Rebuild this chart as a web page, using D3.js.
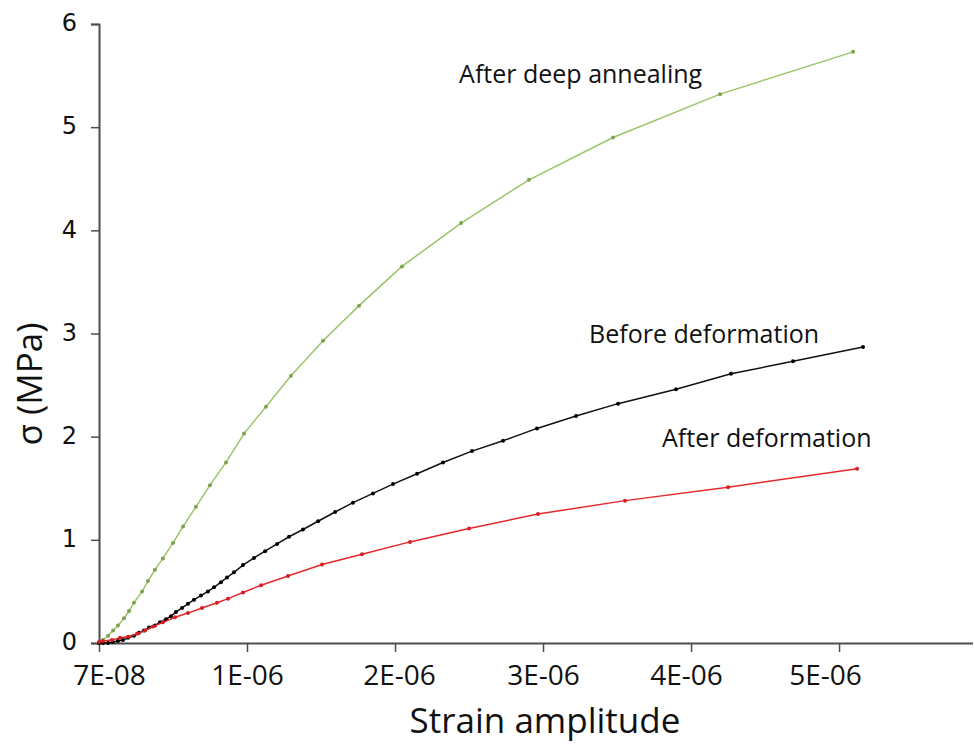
<!DOCTYPE html>
<html>
<head>
<meta charset="utf-8">
<script src="https://cdn.jsdelivr.net/npm/d3@7"></script>
<style>
  html, body { margin: 0; padding: 0; background: #fff; }
  svg { display: block; }
</style>
</head>
<body>
<svg id="chart" width="974" height="745"></svg>
<script>
// ---------- DATA ----------
const xTickValues = [0, 1e-6, 2e-6, 3e-6, 4e-6, 5e-6];
const xTickLabels = ["7E-08", "1E-06", "2E-06", "3E-06", "4E-06", "5E-06"];
const yTickValues = [0, 1, 2, 3, 4, 5, 6];

const seriesNames = ["After deep annealing", "Before deformation", "After deformation"];

// strain amplitude (x) and stress in MPa (y)
const annealX = [0.007e-6, 0.027e-6, 0.061e-6, 0.095e-6, 0.128e-6, 0.169e-6, 0.203e-6, 0.236e-6, 0.291e-6, 0.331e-6, 0.378e-6, 0.432e-6, 0.500e-6, 0.568e-6, 0.655e-6, 0.750e-6, 0.858e-6, 0.980e-6, 1.128e-6, 1.297e-6, 1.514e-6, 1.757e-6, 2.047e-6, 2.446e-6, 2.905e-6, 3.473e-6, 4.196e-6, 5.095e-6];
const annealY = [0.01, 0.03, 0.07, 0.12, 0.17, 0.24, 0.31, 0.39, 0.50, 0.60, 0.71, 0.82, 0.97, 1.13, 1.32, 1.53, 1.75, 2.03, 2.29, 2.59, 2.93, 3.27, 3.65, 4.07, 4.49, 4.90, 5.32, 5.73];

const beforeX = [0, 0.027e-6, 0.061e-6, 0.095e-6, 0.128e-6, 0.162e-6, 0.196e-6, 0.236e-6, 0.270e-6, 0.304e-6, 0.338e-6, 0.378e-6, 0.412e-6, 0.453e-6, 0.486e-6, 0.520e-6, 0.561e-6, 0.601e-6, 0.642e-6, 0.689e-6, 0.736e-6, 0.777e-6, 0.824e-6, 0.865e-6, 0.912e-6, 0.973e-6, 1.047e-6, 1.122e-6, 1.203e-6, 1.284e-6, 1.378e-6, 1.480e-6, 1.595e-6, 1.716e-6, 1.851e-6, 1.986e-6, 2.149e-6, 2.324e-6, 2.520e-6, 2.730e-6, 2.959e-6, 3.223e-6, 3.507e-6, 3.899e-6, 4.270e-6, 4.689e-6, 5.162e-6];
const beforeY = [0.00, 0.00, 0.00, 0.01, 0.02, 0.03, 0.05, 0.07, 0.10, 0.12, 0.15, 0.17, 0.20, 0.23, 0.26, 0.30, 0.34, 0.38, 0.42, 0.46, 0.50, 0.54, 0.59, 0.635, 0.685, 0.755, 0.825, 0.89, 0.96, 1.03, 1.10, 1.18, 1.27, 1.36, 1.45, 1.54, 1.64, 1.75, 1.86, 1.96, 2.08, 2.20, 2.32, 2.46, 2.61, 2.73, 2.87];

const afterX = [0, 0.027e-6, 0.088e-6, 0.142e-6, 0.196e-6, 0.257e-6, 0.311e-6, 0.365e-6, 0.432e-6, 0.514e-6, 0.601e-6, 0.696e-6, 0.797e-6, 0.872e-6, 0.973e-6, 1.095e-6, 1.277e-6, 1.507e-6, 1.777e-6, 2.101e-6, 2.500e-6, 2.966e-6, 3.554e-6, 4.250e-6, 5.122e-6];
const afterY = [0.01, 0.02, 0.03, 0.05, 0.06, 0.09, 0.12, 0.16, 0.20, 0.25, 0.29, 0.34, 0.39, 0.43, 0.49, 0.56, 0.65, 0.76, 0.86, 0.98, 1.11, 1.25, 1.38, 1.51, 1.69];

// ---------- CHART ----------
(function () {
const svg = d3.select("#chart");
const mLeft = 99, mRight = 973, mTop = 24, mBottom = 643;

const x = d3.scaleLinear().domain([0, 5.905e-6]).range([mLeft, mRight]);
const y = d3.scaleLinear().domain([0, 6]).range([mBottom, mTop]);

const axisColor = "#4d4d4d";

// X axis
const xAxis = svg.append("g")
  .attr("transform", `translate(0,${mBottom})`)
  .call(d3.axisBottom(x).tickValues(xTickValues)
        .tickFormat((d, i) => xTickLabels[i]).tickSizeOuter(0).tickSize(9).tickPadding(13.5));
xAxis.select(".domain").attr("stroke", axisColor).attr("stroke-width", 2)
  .attr("d", `M${mLeft},0.5H${mRight}`);
xAxis.selectAll(".tick line").attr("stroke", axisColor).attr("stroke-width", 1.5);
const labelNudge = [10, 0, 4, 0, -5, -14];   // label placement as in the original figure
xAxis.selectAll(".tick text").attr("fill", "#111")
  .attr("dx", (d, i) => labelNudge[i])
  .style("font-family", "'Open Sans', 'Noto Sans', sans-serif")
  .style("font-size", "28px");

// Y axis
const yAxis = svg.append("g")
  .attr("transform", `translate(${mLeft},0)`)
  .call(d3.axisLeft(y).tickValues(yTickValues).tickFormat(d3.format("d"))
        .tickSizeOuter(0).tickSize(8).tickPadding(14));
yAxis.select(".domain").attr("stroke", axisColor).attr("stroke-width", 2);
yAxis.selectAll(".tick line").attr("stroke", axisColor).attr("stroke-width", 1.5);
yAxis.selectAll(".tick text").attr("fill", "#111")
  .attr("dy", "0.28em")
  .style("font-family", "'DejaVu Sans', Verdana, sans-serif")
  .style("font-size", "24px");

// Axis titles
svg.append("text")
  .attr("x", 545).attr("y", 733)
  .attr("text-anchor", "middle")
  .style("font-family", "'Open Sans', 'Noto Sans', sans-serif")
  .style("font-size", "35px").attr("fill", "#111")
  .text("Strain amplitude");

svg.append("text")
  .attr("transform", `translate(42,384) rotate(-90)`)
  .attr("text-anchor", "middle")
  .style("font-family", "'Open Sans', 'Noto Sans', sans-serif")
  .style("font-size", "35px").attr("fill", "#111")
  .text("σ (MPa)");

// Series
const series = [
  { name: seriesNames[0], xs: annealX, ys: annealY, line: "#9bc46a", dot: "#7da350" },
  { name: seriesNames[1], xs: beforeX, ys: beforeY, line: "#111111", dot: "#000000" },
  { name: seriesNames[2], xs: afterX,  ys: afterY,  line: "#e5282c", dot: "#d81e22" }
];

const line = d3.line().x(d => x(d[0])).y(d => y(d[1]));

series.forEach(s => {
  const pts = s.xs.map((v, i) => [v, s.ys[i]]);
  svg.append("path").datum(pts)
    .attr("d", line).attr("fill", "none")
    .attr("stroke", s.line).attr("stroke-width", 1.5);
  svg.append("g").selectAll("circle").data(pts).join("circle")
    .attr("cx", d => x(d[0])).attr("cy", d => y(d[1]))
    .attr("r", 2).attr("fill", s.dot);
});

// Annotations (anchored in data coordinates)
const annoStyle = sel => sel
  .style("font-family", "'Open Sans', 'Noto Sans', sans-serif")
  .style("font-size", "25px").attr("fill", "#111");

svg.append("text").attr("x", x(2.433e-6)).attr("y", y(5.43))
  .call(annoStyle).text(seriesNames[0]);
svg.append("text").attr("x", x(3.311e-6)).attr("y", y(2.905))
  .call(annoStyle).text(seriesNames[1]);
svg.append("text").attr("x", x(3.804e-6)).attr("y", y(1.9))
  .call(annoStyle).text(seriesNames[2]);
})();
</script>
</body>
</html>
